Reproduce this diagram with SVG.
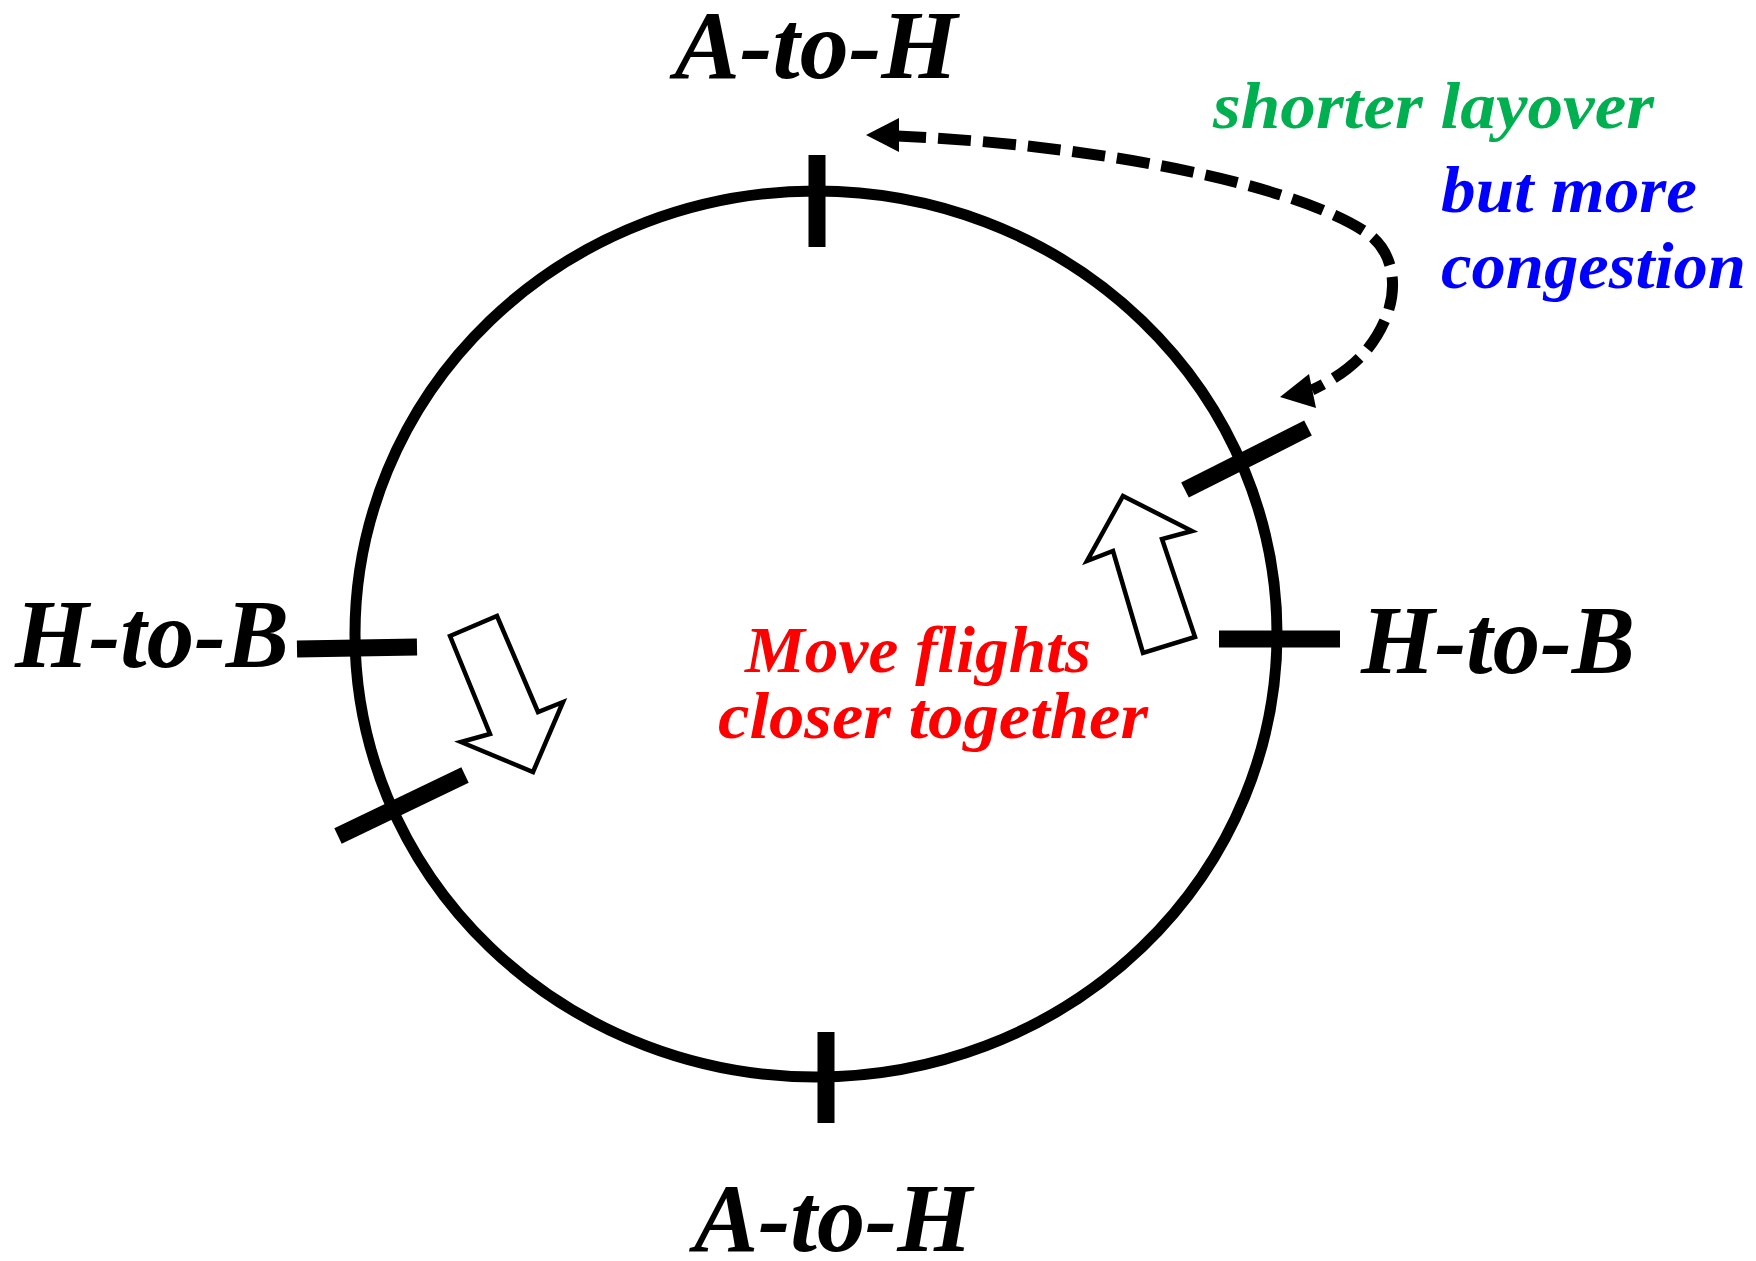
<svg xmlns="http://www.w3.org/2000/svg" width="1756" height="1261" viewBox="0 0 1756 1261">
<style>
.lbl{font-family:"Liberation Serif","Times New Roman",serif;font-weight:bold;font-style:italic;}
.big{font-size:98px;fill:#000;}
.note{font-size:66px;}
.tick{stroke:#000;stroke-width:17;fill:none;}
.hollow{fill:#fff;stroke:#000;stroke-width:4.5;stroke-linejoin:miter;}
</style>
<rect width="1756" height="1261" fill="#fff"/>
<g id="cycle">
<ellipse cx="816" cy="634" rx="461" ry="443" fill="none" stroke="#000" stroke-width="11"/>
</g>
<g id="tick-top"><line class="tick" x1="817" y1="155" x2="817" y2="247"/></g>
<g id="tick-bottom"><line class="tick" x1="826" y1="1032" x2="826" y2="1123"/></g>
<g id="tick-left"><line class="tick" x1="297" y1="649" x2="417" y2="647"/></g>
<g id="tick-right"><line class="tick" x1="1219" y1="639" x2="1340" y2="639"/></g>
<g id="tick-lower-left"><line class="tick" x1="338" y1="836" x2="465" y2="775"/></g>
<g id="tick-upper-right"><line class="tick" x1="1185" y1="490" x2="1308" y2="428"/></g>
<g id="arrow-up"><polygon class="hollow" points="1123,496 1192,531 1162,539 1195,637 1143,653 1113,551 1087,561"/></g>
<g id="arrow-down"><polygon class="hollow" points="450,636 497,616 538,712 563,702 533,772 461,742 490,734"/></g>
<g id="connectors">
<path d="M 897,136 C 1100,145 1300,185 1370,235 C 1395,255 1398,290 1385,320 C 1372,350 1350,372 1312,390" fill="none" stroke="#000" stroke-width="11" stroke-dasharray="33 12" stroke-dashoffset="4"/>
<polygon points="866,135 899,118 899,152" fill="#000"/>
<polygon points="1280,397 1309,374 1316,408" fill="#000"/>
</g>
<g id="label-top"><text class="lbl big" x="816" y="78" text-anchor="middle" textLength="283" lengthAdjust="spacingAndGlyphs">A-to-H</text></g>
<g id="label-bottom"><text class="lbl big" x="833" y="1251" text-anchor="middle" textLength="278" lengthAdjust="spacingAndGlyphs">A-to-H</text></g>
<g id="label-left"><text class="lbl big" x="15" y="667" textLength="274" lengthAdjust="spacingAndGlyphs">H-to-B</text></g>
<g id="label-right"><text class="lbl big" x="1361" y="673" textLength="274" lengthAdjust="spacingAndGlyphs">H-to-B</text></g>
<g id="note-green"><text class="lbl note" x="1213" y="128" fill="#00B050" textLength="441" lengthAdjust="spacingAndGlyphs">shorter layover</text></g>
<g id="note-blue">
<text class="lbl note" x="1441" y="212" fill="#0000FF" textLength="256" lengthAdjust="spacingAndGlyphs">but more</text>
<text class="lbl note" x="1441" y="288" fill="#0000FF" textLength="305" lengthAdjust="spacingAndGlyphs">congestion</text>
</g>
<g id="note-red">
<text class="lbl note" x="745" y="672" fill="#FF0000" textLength="346" lengthAdjust="spacingAndGlyphs">Move flights</text>
<text class="lbl note" x="718" y="738" fill="#FF0000" textLength="430" lengthAdjust="spacingAndGlyphs">closer together</text>
</g>
</svg>
